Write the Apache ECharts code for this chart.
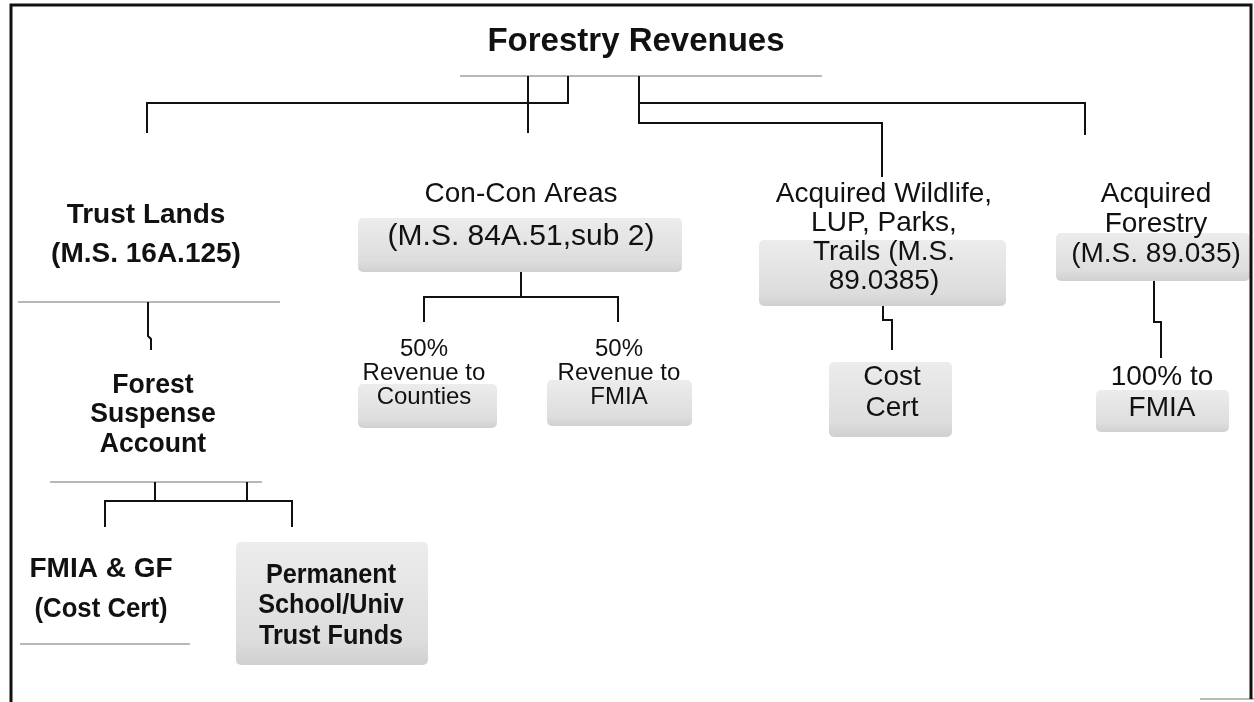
<!DOCTYPE html>
<html>
<head>
<meta charset="utf-8">
<script src="https://cdn.jsdelivr.net/npm/echarts@6/dist/echarts.min.js"></script>
<style>
html, body { margin: 0; padding: 0; background: #fff; }
#chart { width: 1254px; height: 702px; }
</style>
</head>
<body>
<div id="chart"></div>
<script>
// --- content of the flowchart ---
const nodeLines = [
  ['Forestry Revenues'],
  ['Trust Lands', '(M.S. 16A.125)'],
  ['Forest', 'Suspense', 'Account'],
  ['FMIA & GF', '(Cost Cert)'],
  ['Permanent', 'School/Univ', 'Trust Funds'],
  ['Con-Con Areas', '(M.S. 84A.51,sub 2)'],
  ['50%', 'Revenue to', 'Counties'],
  ['50%', 'Revenue to', 'FMIA'],
  ['Acquired Wildlife,', 'LUP, Parks,', 'Trails (M.S.', '89.0385)'],
  ['Cost', 'Cert'],
  ['Acquired', 'Forestry', '(M.S. 89.035)'],
  ['100% to', 'FMIA']
];
// parent -> child
const links = [[0, 1], [0, 5], [0, 8], [0, 10], [1, 2], [2, 3], [2, 4], [5, 6], [5, 7], [8, 9], [10, 11]];

// --- layout, page pixels ---
const nodeX = [636, 146, 153, 101, 331, 521, 424, 619, 884, 892, 1156, 1162];
const nodeY0 = [42, 215, 385, 569, 575, 194, 349, 349, 194, 377, 194, 377];
const lineGap = [0, 39, 29.5, 40, 30.5, 43, 24, 24, 29, 31, 30, 31];
const fontSize = [33, 28, 28, 28, 28, 28, 24, 24, 28, 28, 28, 28];
const bold = [1, 1, 1, 1, 1, 0, 0, 0, 0, 0, 0, 0];
const squeeze = [1, 1, 0.95, 1, 0.9, 1, 1, 1, 1, 1, 1, 1];
// odd lines: [node-line] -> [squeeze, fontSize]
const lineTweak = { '3-1': [0.92, 28], '5-1': [1, 30] };

// shaded patches behind some labels [x0, y0, x1, y1]
const boxes = [
  [358, 218, 682, 272],
  [358, 384, 497, 428],
  [547, 380, 692, 426],
  [759, 240, 1006, 306],
  [829, 362, 952, 437],
  [1056, 233, 1250, 281],
  [1096, 390, 1229, 432],
  [236, 542, 428, 665]
];
// faint rules under labels
const rules = [
  [[460, 76], [822, 76]],
  [[18, 302], [280, 302]],
  [[50, 482], [262, 482]],
  [[20, 644], [190, 644]],
  [[1200, 699], [1254, 699]]
];
// connector routes, one per link (same order as links)
const wires = [
  [[147, 133], [147, 103], [568, 103], [568, 76]],
  [[528, 76], [528, 133]],
  [[639, 76], [639, 123], [882, 123], [882, 177]],
  [[639, 103], [1085, 103], [1085, 135]],
  [[148, 302], [148, 336], [151, 339], [151, 350]],
  [[155, 482], [155, 501]],
  [[247, 482], [247, 501]],
  [[105, 527], [105, 501], [292, 501], [292, 527]],
  [[521, 272], [521, 297]],
  [[424, 322], [424, 297], [618, 297], [618, 322]],
  [[883, 306], [883, 320], [892, 320], [892, 350]],
  [[1154, 281], [1154, 322], [1161, 322], [1161, 358]]
];
const frame = [[11, 702], [11, 5], [1251, 5], [1251, 699]];

const FONT = '"Liberation Sans", Arial, sans-serif';

let textItems = [];
nodeLines.forEach((lines, n) => {
  lines.forEach((t, i) => textItems.push([n, i]));
});

function polyline(api, pts, color, width) {
  return {
    type: 'polyline',
    shape: { points: pts.map((p) => api.coord(p)) },
    style: { stroke: color, lineWidth: width, fill: null, lineJoin: 'miter' }
  };
}

let chartDom = document.getElementById('chart');
let chartInstance = echarts.init(chartDom, null, { renderer: 'canvas' });

let option = {
  animation: false,
  backgroundColor: '#fff',
  grid: { left: 0, right: 0, top: 0, bottom: 0 },
  xAxis: { type: 'value', min: 0, max: 1254, show: false },
  yAxis: { type: 'value', min: 0, max: 702, inverse: true, show: false },
  series: [
    {
      type: 'custom',
      silent: true,
      data: boxes.map((b, i) => i),
      renderItem: (params, api) => {
        let b = boxes[params.dataIndex];
        let p0 = api.coord([b[0], b[1]]);
        let p1 = api.coord([b[2], b[3]]);
        return {
          type: 'rect',
          shape: { x: p0[0], y: p0[1], width: p1[0] - p0[0], height: p1[1] - p0[1], r: 5 },
          style: {
            fill: new echarts.graphic.LinearGradient(0, 0, 0, 1, [
              { offset: 0, color: '#ececec' },
              { offset: 0.8, color: '#dddddd' },
              { offset: 1, color: '#d0d0d0' }
            ])
          }
        };
      }
    },
    {
      type: 'custom',
      silent: true,
      data: rules.map((r, i) => i),
      renderItem: (params, api) => polyline(api, rules[params.dataIndex], '#b8b8b8', 2)
    },
    {
      type: 'custom',
      silent: true,
      data: wires.map((w, i) => i),
      renderItem: (params, api) => polyline(api, wires[params.dataIndex], '#111', 2)
    },
    {
      type: 'custom',
      silent: true,
      data: [0],
      renderItem: (params, api) => polyline(api, frame, '#111', 3)
    },
    {
      type: 'custom',
      silent: true,
      data: textItems.map((t, i) => i),
      renderItem: (params, api) => {
        let [n, i] = textItems[params.dataIndex];
        let p = api.coord([nodeX[n], nodeY0[n] + i * lineGap[n]]);
        let tw = lineTweak[n + '-' + i] || [squeeze[n], fontSize[n]];
        return {
          type: 'text',
          x: p[0],
          y: p[1],
          scaleX: tw[0],
          style: {
            x: 0,
            y: 0,
            text: nodeLines[n][i],
            fill: '#111',
            fontSize: tw[1],
            fontWeight: bold[n] ? 'bold' : 'normal',
            fontFamily: FONT,
            align: 'center',
            verticalAlign: 'middle'
          }
        };
      }
    }
  ]
};
chartInstance.setOption(option);
</script>
</body>
</html>
